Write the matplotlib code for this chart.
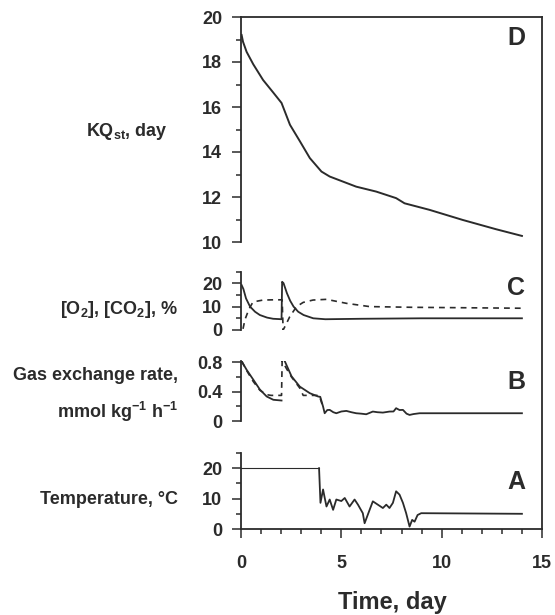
import numpy as np
import matplotlib
matplotlib.use('Agg')
import matplotlib.pyplot as plt
from matplotlib.ticker import MultipleLocator

# --- data ---
kq_day = [0.03, 0.1, 0.28, 0.61, 1.1, 1.6, 2.02, 2.44, 2.94, 3.43, 4.01, 4.42,
          5.74, 6.74, 7.73, 8.15, 9.39, 11.05, 12.7, 14.0]
kq_val = [19.2, 18.9, 18.45, 17.9, 17.2, 16.65, 16.18, 15.21, 14.47, 13.73, 13.13,
          12.91, 12.46, 12.24, 11.95, 11.72, 11.43, 10.98, 10.57, 10.27]

o2_day = [0.03, 0.12, 0.25, 0.45, 0.7, 0.94, 1.3, 1.6, 2.02, 2.05, 2.12, 2.29,
          2.45, 2.62, 2.85, 3.12, 3.6, 4.2, 6.0, 9.0, 14.0]
o2_val = [19.2, 17.5, 13.5, 10.0, 7.8, 6.4, 5.3, 4.8, 4.6, 20.6, 20.0, 15.7,
          12.5, 10.0, 7.8, 6.4, 5.0, 4.6, 4.8, 5.0, 5.0]

co2_day = [0.1, 0.2, 0.4, 0.6, 1.1, 1.6, 2.05, 2.1, 2.25, 2.43, 2.77, 3.1,
           3.59, 4.26, 5.25, 6.41, 8.55, 14.0]
co2_val = [0.5, 4.5, 9.0, 12.0, 12.8, 12.9, 12.9, 0.0, 2.5, 5.7, 10.0, 11.8,
           12.8, 13.1, 11.4, 10.0, 9.7, 9.3]

gas_day = [0.03, 0.28, 0.61, 0.94, 1.28, 1.61, 2.02, np.nan, 2.18, 2.52, 2.93,
           3.43, 3.84, 3.95, 4.09, 4.17, 4.3, 4.42, 4.6, 4.75, 5.0, 5.25, 5.5,
           5.74, 6.0, 6.24, 6.57, 6.8, 7.07, 7.4, 7.6, 7.73, 7.9, 8.07, 8.25,
           8.4, 8.6, 8.9, 14.0]
gas_val = [0.818, 0.70, 0.566, 0.43, 0.335, 0.29, 0.28, np.nan, 0.818, 0.61,
           0.47, 0.38, 0.335, 0.33, 0.197, 0.106, 0.15, 0.152, 0.12, 0.106,
           0.13, 0.138, 0.12, 0.106, 0.10, 0.092, 0.129, 0.12, 0.115, 0.129,
           0.13, 0.175, 0.15, 0.152, 0.10, 0.083, 0.095, 0.106, 0.106]

gas2_day = [0.03, 0.28, 0.61, 0.94, 1.28, 1.5, 2.02, 2.05, 2.3, 2.52, 2.93,
            3.1, 3.9, 4.05]
gas2_val = [0.818, 0.69, 0.54, 0.42, 0.36, 0.35, 0.35, 0.82, 0.70, 0.60, 0.45,
            0.35, 0.35, 0.22]

temp_day = [0.0, 3.89, 3.96, 4.09, 4.17, 4.26, 4.42, 4.59, 4.75, 5.0, 5.17,
            5.41, 5.66, 5.83, 6.07, 6.16, 6.41, 6.57, 6.82, 7.07, 7.24, 7.4,
            7.57, 7.73, 7.9, 8.07, 8.23, 8.4, 8.53, 8.65, 8.8, 8.98, 14.0]
temp_val = [20.0, 20.0, 8.6, 13.0, 10.3, 7.4, 9.7, 6.3, 9.7, 9.2, 10.2, 7.4,
            9.7, 8.0, 5.2, 1.9, 6.3, 9.1, 8.0, 6.9, 8.0, 6.9, 8.6, 12.4, 11.3,
            8.6, 5.2, 0.8, 3.0, 2.4, 4.6, 5.2, 5.0]

x_ticks = [0, 5, 10, 15]

# --- style ---
INK = '#2b2b2b'
plt.rcParams['font.family'] = ['Liberation Sans', 'DejaVu Sans']
plt.rcParams['font.weight'] = 'bold'
plt.rcParams['mathtext.fontset'] = 'custom'
plt.rcParams['mathtext.rm'] = 'Liberation Sans:bold'
plt.rcParams['mathtext.bf'] = 'Liberation Sans:bold'
plt.rcParams['mathtext.default'] = 'rm'
plt.rcParams['text.color'] = INK
plt.rcParams['axes.edgecolor'] = INK
plt.rcParams['xtick.color'] = INK
plt.rcParams['ytick.color'] = INK

W, H = 555, 615
fig = plt.figure(figsize=(W / 100, H / 100), dpi=100)
L, R = 241, 542


def box(top, bot):
    # axes rectangle from pixel rows
    return [L / W, 1 - bot / H, (R - L) / W, (bot - top) / H]


# outer frame only carries the right spine
frame = fig.add_axes(box(17, 529), zorder=-1)
frame.set_facecolor('none')
for s in ['left', 'top', 'bottom']:
    frame.spines[s].set_visible(False)
frame.spines['right'].set_linewidth(1.3)
frame.set_xticks([])
frame.set_yticks([])

axD = fig.add_axes(box(17, 242))
axC = fig.add_axes(box(271.5, 330))
axB = fig.add_axes(box(361, 421))
axA = fig.add_axes(box(453, 529))

for ax in [axD, axC, axB, axA]:
    ax.set_facecolor('none')
    ax.set_xlim(0, 15)
    for s in ['right', 'top', 'bottom']:
        ax.spines[s].set_visible(False)
    ax.spines['left'].set_linewidth(1.3)
    ax.tick_params(axis='y', which='major', length=6.5, width=1.1, pad=7,
                   labelsize=13)
    ax.tick_params(axis='y', which='minor', length=3.5, width=1.1)
    ax.set_xticks([])

axD.spines['top'].set_visible(True)
axD.spines['top'].set_linewidth(1.3)
axA.spines['bottom'].set_visible(True)
axA.spines['bottom'].set_linewidth(1.3)

# D: KQst
axD.plot(kq_day, kq_val, color=INK, lw=1.4)
axD.set_ylim(10, 20)
axD.yaxis.set_major_locator(MultipleLocator(2))
axD.yaxis.set_minor_locator(MultipleLocator(1))

# C: O2 and CO2
axC.plot(o2_day, o2_val, color=INK, lw=1.3)
axC.plot(co2_day, co2_val, color=INK, lw=1.2, ls=(0, (3.5, 3)))
axC.set_ylim(0, 25)
axC.set_yticks([0, 10, 20])
axC.yaxis.set_minor_locator(MultipleLocator(5))

# B: gas exchange
axB.plot(gas_day, gas_val, color=INK, lw=1.3)
axB.plot(gas2_day, gas2_val, color=INK, lw=1.2, ls=(0, (3.5, 3)))
axB.set_ylim(0, 0.82)
axB.set_yticks([0, 0.4, 0.8])
axB.set_yticklabels(['0', '0.4', '0.8'])
axB.yaxis.set_minor_locator(MultipleLocator(0.2))

# A: temperature
axA.plot(temp_day[:2], temp_val[:2], color=INK, lw=0.8)
axA.plot(temp_day[1:], temp_val[1:], color=INK, lw=1.3)
axA.set_ylim(0, 25)
axA.set_yticks([0, 10, 20])
axA.yaxis.set_minor_locator(MultipleLocator(5))
axA.set_xticks(x_ticks)
axA.set_xticklabels([str(t) for t in x_ticks])
axA.xaxis.set_minor_locator(MultipleLocator(1))
axA.tick_params(axis='x', which='major', length=6.5, width=1.1, pad=12,
                labelsize=13)
axA.tick_params(axis='x', which='minor', length=3.5, width=1.1)

# panel letters
for ax, letter, yy in [(axD, 'D', 0.905), (axC, 'C', 0.72),
                       (axB, 'B', 0.65), (axA, 'A', 0.62)]:
    ax.text(0.914, yy, letter, transform=ax.transAxes, ha='center',
            va='center', fontsize=18, fontweight='bold')

# y labels
fig.text(127 / W, 1 - 132 / H, r'KQ$_{st}$, day', ha='center', va='center',
         fontsize=13)
fig.text(178 / W, 1 - 309 / H, r'[O$_2$], [CO$_2$], %', ha='right',
         va='center', fontsize=13)
fig.text(178 / W, 1 - 375 / H, 'Gas exchange rate,', ha='right', va='center',
         fontsize=13)
fig.text(178 / W, 1 - 412 / H, r'mmol kg$^{-1}$ h$^{-1}$', ha='right',
         va='center', fontsize=13)
fig.text(178 / W, 1 - 500 / H, 'Temperature, °C', ha='right', va='center',
         fontsize=13)
fig.text(392 / W, 1 - 603 / H, 'Time, day', ha='center', va='center',
         fontsize=17)

fig.savefig('out.png', dpi=100)
